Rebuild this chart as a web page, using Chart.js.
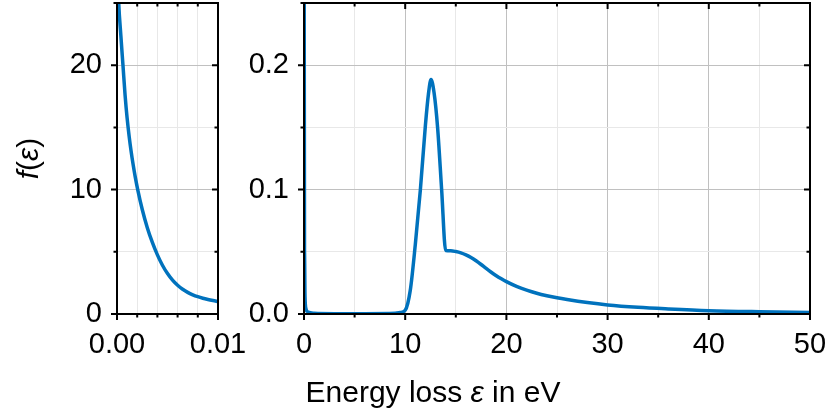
<!DOCTYPE html>
<html>
<head>
<meta charset="utf-8">
<script src="https://cdn.jsdelivr.net/npm/chart.js@4.4.1/dist/chart.umd.min.js"></script>
<style>
  html, body { margin: 0; padding: 0; background: #fff; }
  #wrap { position: relative; width: 830px; height: 415px; }
  #wrap canvas { position: absolute; left: 0; top: 0; }
</style>
</head>
<body>
<div id="wrap">
  <canvas id="grafEsq" width="830" height="415"></canvas>
  <canvas id="grafDir" width="830" height="415"></canvas>
</div>
<script>
// painel esquerdo: zoom perto de zero
let epsEsq = [0, 0.00005, 0.00017, 0.00038, 0.00059, 0.0008, 0.001, 0.0012, 0.0014, 0.0016, 0.0018, 0.00205, 0.0025, 0.003, 0.0035, 0.004, 0.0045, 0.005, 0.0055, 0.006, 0.0065, 0.007, 0.0075, 0.008, 0.0085, 0.009, 0.0095, 0.01]
let fEsq = [32, 28, 25, 22.4, 20, 17.6, 15.76, 14.3, 13.06, 11.99, 11.04, 10, 8.4, 6.94, 5.75, 4.75, 3.92, 3.25, 2.72, 2.31, 1.99, 1.74, 1.545, 1.39, 1.265, 1.165, 1.08, 1.005]

// painel direito: 0 a 50 eV
let epsDir = [0, 0.02, 0.05, 0.1, 0.2, 0.4, 1, 3, 6, 9, 9.5, 10, 10.5, 11, 11.5, 12, 12.3, 12.55, 12.85, 13.2, 13.6, 14.0, 14.5, 15, 15.5, 16, 16.5, 17, 17.5, 18, 18.5, 19, 19.5, 20, 21, 22, 23, 24, 25, 26, 28, 30, 33, 36, 40, 45, 50]
let fDir = [30, 0.25, 0.05, 0.014, 0.004, 0.0015, 0.0006, 0.0003, 0.0003, 0.0006, 0.0012, 0.003, 0.019, 0.056, 0.1, 0.152, 0.177, 0.1886, 0.178, 0.15, 0.1, 0.051, 0.0508, 0.0502, 0.0492, 0.0476, 0.0455, 0.0428, 0.0398, 0.0366, 0.0336, 0.0308, 0.0283, 0.026, 0.0222, 0.0192, 0.0167, 0.0147, 0.013, 0.0116, 0.0092, 0.0073, 0.0054, 0.0041, 0.0027, 0.0018, 0.0012]

// ticks: [passo menor, passo maior]
let xTicksEsq = [0.002, 0.01]
let yTicksEsq = [5, 10]
let xTicksDir = [5, 10]
let yTicksDir = [0.05, 0.1]

const fonte = '"Liberation Sans", Arial, sans-serif';
Chart.defaults.font.family = fonte;
Chart.defaults.font.size = 29;
Chart.defaults.color = '#000';

const azul = '#0072bd';
const gradeMaior = '#c0c0c0';
const gradeMenor = '#e8e8e8';

function ehMaior(v, passo) {
  const r = v / passo;
  return Math.abs(r - Math.round(r)) < 1e-6;
}

function pontos(xs, ys) {
  return xs.map((x, i) => ({ x: x, y: ys[i] }));
}

// escreve texto com partes em italico, centrado em cx
function textoMisto(ctx, partes, cx, cy) {
  let total = 0;
  partes.forEach(p => {
    ctx.font = p[1] + '30px ' + fonte;
    total += ctx.measureText(p[0]).width;
  });
  let x = cx - total / 2;
  ctx.textAlign = 'left';
  ctx.textBaseline = 'alphabetic';
  partes.forEach(p => {
    ctx.font = p[1] + '30px ' + fonte;
    ctx.fillText(p[0], x, cy);
    x += ctx.measureText(p[0]).width;
  });
}

// tracinhos dos ticks nos 4 lados + moldura
const tracos = {
  id: 'tracos',
  afterDatasetsDraw(chart, args, opts) {
    const ctx = chart.ctx;
    const a = chart.chartArea;
    const sx = chart.scales.x;
    const sy = chart.scales.y;
    ctx.save();
    ctx.strokeStyle = '#000';
    ctx.lineWidth = 2;
    sx.ticks.forEach(t => {
      const px = sx.getPixelForValue(t.value);
      const len = ehMaior(t.value, opts.xMaior) ? 6 : 3.5;
      ctx.beginPath();
      ctx.moveTo(px, a.bottom); ctx.lineTo(px, a.bottom + len);
      ctx.moveTo(px, a.top); ctx.lineTo(px, a.top + len);
      ctx.stroke();
    });
    sy.ticks.forEach(t => {
      const py = sy.getPixelForValue(t.value);
      const len = ehMaior(t.value, opts.yMaior) ? 6 : 3.5;
      ctx.beginPath();
      ctx.moveTo(a.left, py); ctx.lineTo(a.left - len, py);
      ctx.moveTo(a.right, py); ctx.lineTo(a.right - len, py);
      ctx.stroke();
    });
    ctx.strokeRect(a.left, a.top, a.right - a.left, a.bottom - a.top);
    ctx.restore();
  }
};

const rotulos = {
  id: 'rotulos',
  afterDraw(chart, args, opts) {
    const ctx = chart.ctx;
    const a = chart.chartArea;
    ctx.save();
    ctx.fillStyle = '#000';
    if (opts.y) {
      ctx.translate(38, (a.top + a.bottom) / 2);
      ctx.rotate(-Math.PI / 2);
      textoMisto(ctx, [['f', 'italic '], ['(', ''], ['ε', 'italic '], [')', '']], 0, 0);
    }
    if (opts.x) {
      textoMisto(ctx, [['Energy loss ', ''], ['ε', 'italic '], [' in eV', '']], 433, 402);
    }
    ctx.restore();
  }
};

function eixos(xMin, xMax, xT, yMax, yT, casasX, casasY, largY) {
  return {
    x: {
      type: 'linear', min: xMin, max: xMax,
      ticks: {
        stepSize: xT[0], padding: 14, maxRotation: 0, autoSkip: false,
        callback: v => ehMaior(v, xT[1]) ? v.toFixed(casasX) : ''
      },
      grid: { drawTicks: false, lineWidth: 1, color: c => ehMaior(c.tick.value, xT[1]) ? gradeMaior : gradeMenor },
      border: { display: false },
      afterFit: s => { s.height = 101; s.paddingLeft = 0; s.paddingRight = 0; }
    },
    y: {
      type: 'linear', min: 0, max: yMax,
      ticks: {
        stepSize: yT[0], padding: 15, autoSkip: false,
        callback: v => ehMaior(v, yT[1]) ? v.toFixed(casasY) : ''
      },
      grid: { drawTicks: false, lineWidth: 1, color: c => ehMaior(c.tick.value, yT[1]) ? gradeMaior : gradeMenor },
      border: { display: false },
      afterFit: s => { s.width = largY; s.paddingTop = 0; s.paddingBottom = 0; }
    }
  };
}

function serie(xs, ys) {
  return [{
    data: pontos(xs, ys),
    borderColor: azul,
    borderWidth: 3.5,
    pointRadius: 0,
    fill: false,
    cubicInterpolationMode: 'monotone'
  }];
}

new Chart(document.getElementById('grafEsq').getContext('2d'), {
  type: 'line',
  data: { datasets: serie(epsEsq, fEsq) },
  options: {
    responsive: false, animation: false, events: [],
    layout: { padding: { top: 3, right: 612, left: 0, bottom: 0 } },
    scales: eixos(0, 0.01, xTicksEsq, 25, yTicksEsq, 2, 0, 117),
    plugins: {
      legend: { display: false }, tooltip: { enabled: false },
      tracos: { xMaior: xTicksEsq[1], yMaior: yTicksEsq[1] },
      rotulos: { y: true }
    }
  },
  plugins: [tracos, rotulos]
});

new Chart(document.getElementById('grafDir').getContext('2d'), {
  type: 'line',
  data: { datasets: serie(epsDir, fDir) },
  options: {
    responsive: false, animation: false, events: [],
    layout: { padding: { top: 3, right: 20, left: 0, bottom: 0 } },
    scales: eixos(0, 50, xTicksDir, 0.25, yTicksDir, 0, 1, 304),
    plugins: {
      legend: { display: false }, tooltip: { enabled: false },
      tracos: { xMaior: xTicksDir[1], yMaior: yTicksDir[1] },
      rotulos: { x: true }
    }
  },
  plugins: [tracos, rotulos]
});
</script>
</body>
</html>
